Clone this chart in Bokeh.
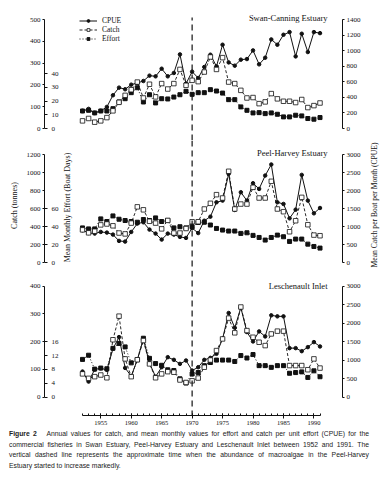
import math
from bokeh.plotting import figure
from bokeh.models import Range1d, LinearAxis, FixedTicker, Span, Label, Legend, LegendItem, Div
from bokeh.layouts import column, row
from bokeh.embed import file_html
from bokeh.resources import INLINE

# ---------------- data ----------------
years = [1952, 1953, 1954, 1955, 1956, 1957, 1958, 1959, 1960, 1961,
         1962, 1963, 1964, 1965, 1966, 1967, 1968, 1969, 1970, 1971,
         1972, 1973, 1974, 1975, 1976, 1977, 1978, 1979, 1980, 1981,
         1982, 1983, 1984, 1985, 1986, 1987, 1988, 1989, 1990, 1991]
change_year = 1970
x_major_ticks = [1955, 1960, 1965, 1970, 1975, 1980, 1985, 1990]

# Swan-Canning Estuary
swan_cpue = [226, 252, 200, 226, 277, 427, 525, 504, 563, 585,
             610, 679, 670, 768, 670, 713, 952, 576, 730, 649,
             790, 948, 798, 1076, 849, 807, 884, 892, 1003, 824,
             909, 1144, 1076, 1204, 1238, 926, 1217, 982, 1238, 1225]
swan_catch = [35, 46, 29, 35, 50, 81, 120, 152, 178, 213,
              140, 203, 145, 206, 181, 206, 271, 198, 221, 215,
              259, 328, 271, 325, 213, 206, 175, 140, 142, 114,
              122, 160, 136, 125, 125, 119, 133, 96, 105, 117]
swan_effort = [12.8, 13.3, 11.4, 12.8, 12.8, 14.5, 19.4, 21.8, 26.2, 29.8,
               19.4, 24.7, 18.7, 21.8, 21.6, 23.0, 24.7, 27.2, 25.0, 26.2,
               26.2, 28.4, 27.4, 25.9, 21.1, 21.1, 15.8, 13.3, 11.4, 11.6,
               10.9, 11.4, 10.4, 8.5, 8.5, 9.7, 9.2, 7.3, 6.8, 8.0]

# Peel-Harvey Estuary
peel_cpue = [895, 821, 803, 849, 831, 775, 600, 581, 849, 1080,
             1117, 914, 803, 637, 803, 775, 711, 683, 957, 818,
             1161, 1273, 1672, 1719, 2462, 1459, 1951, 1719, 2202, 2044,
             2415, 2722, 1672, 1626, 1226, 1468, 2434, 1719, 1366, 1514]
peel_catch = [365, 332, 350, 420, 430, 410, 330, 320, 440, 620,
              587, 460, 440, 376, 470, 330, 330, 380, 455, 455,
              596, 659, 755, 718, 1014, 596, 651, 651, 836, 718,
              718, 903, 596, 566, 344, 466, 725, 422, 307, 300]
peel_effort = [38.7, 37.6, 37.6, 48.7, 45.8, 52.0, 48.3, 46.9, 45.8, 45.0,
               48.0, 46.9, 49.8, 45.8, 46.9, 38.7, 40.0, 38.7, 40.0, 44.8,
               45.0, 41.9, 38.1, 36.3, 35.2, 35.2, 32.6, 33.3, 30.4, 28.1,
               25.2, 28.1, 30.7, 28.9, 23.7, 26.3, 26.3, 20.7, 18.1, 16.3]

# Leschenault Inlet
lesch_cpue = [689, 417, 743, 779, 734, 1305, 1622, 788, 562, 1006,
              1577, 915, 550, 806, 1078, 1006, 897, 988, 716, 806,
              1006, 1060, 1169, 1576, 2274, 1875, 2419, 1758, 1504, 1776,
              1640, 2211, 2183, 2183, 1323, 1323, 1241, 1350, 1486, 1368]
lesch_catch = [84, 68, 74, 80, 70, 207, 292, 138, 74, 135,
               204, 120, 70, 84, 92, 90, 62, 53, 59, 69,
               108, 134, 168, 210, 285, 232, 325, 240, 216, 198,
               186, 228, 238, 238, 114, 114, 114, 99, 138, 105]
lesch_effort = [10.9, 12.1, 8.1, 8.4, 8.2, 14.1, 15.5, 14.5, 9.9, 10.8,
                17.0, 11.2, 9.7, 9.2, 7.9, 7.7, 5.3, 4.1, 6.7, 7.1,
                9.1, 10.0, 10.7, 10.7, 10.7, 10.3, 12.0, 11.3, 12.3, 9.1,
                9.1, 8.6, 9.1, 9.1, 6.9, 7.1, 7.3, 5.7, 7.6, 5.9]

titles = ["Swan-Canning Estuary", "Peel-Harvey Estuary", "Leschenault Inlet"]
catch_ticks = [[0, 100, 200, 300, 400, 500],
               [0, 200, 400, 600, 800, 1000, 1200],
               [0, 100, 200, 300, 400]]
effort_ticks = [[0, 10, 20, 30, 40], [0, 20, 40, 60], [0, 4, 8, 12, 16]]
cpue_ticks = [[0, 200, 400, 600, 800, 1000, 1200, 1400],
              [0, 500, 1000, 1500, 2000, 2500, 3000],
              [0, 500, 1000, 1500, 2000, 2500, 3000]]

# ---------------- layout geometry (page pixels) ----------------
SERIF = "Liberation Serif"
INK = "#111111"
FIG_W = 384
SIDE_W = 18
FRAME_L, FRAME_R = 44, 342
X0_PX, PX_PER_YEAR = 82.0, 6.09


def px_to_year(px):
    return 1952 + (px - X0_PX) / PX_PER_YEAR


def lin(v0, p0, v1, p1):
    k = (v1 - v0) / (p1 - p0)
    return lambda p: v0 + (p - p0) * k


panels = [
    dict(top=12, bottom=140, btop=12, bbot=0, width=FIG_W,
         cm=lin(0, 128, 500, 19), em=lin(0, 128, 40, 73.3), pm=lin(0, 128, 1400, 19),
         cpue=swan_cpue, catch=swan_catch, effort=swan_effort, title_py=17),
    dict(top=140, bottom=270, btop=0, bbot=0, width=FIG_W - SIDE_W,
         cm=lin(0, 262.3, 1200, 154), em=lin(0, 262.3, 60, 208.2), pm=lin(0, 262, 3000, 154),
         cpue=peel_cpue, catch=peel_catch, effort=peel_effort, title_py=152),
    dict(top=270, bottom=415, btop=0, bbot=14, width=FIG_W,
         cm=lin(0, 396.7, 400, 285.7), em=lin(0, 396.7, 16, 341.2), pm=lin(0, 396.5, 3000, 285.7),
         cpue=lesch_cpue, catch=lesch_catch, effort=lesch_effort, title_py=285),
]


def style_axis(ax, size="7px"):
    ax.axis_line_color = INK
    ax.major_tick_line_color = INK
    ax.minor_tick_line_color = INK
    ax.major_label_text_color = INK
    ax.major_label_text_font = SERIF
    ax.major_label_text_font_size = size
    ax.axis_label_text_font = SERIF
    ax.axis_label_text_font_style = "normal"
    ax.axis_label_text_color = INK


figs = []
for i, sp in enumerate(panels):
    last = (i == 2)
    h = sp["btop"] + (sp["bottom"] - sp["top"]) + sp["bbot"]
    cm, em, pm = sp["cm"], sp["em"], sp["pm"]
    p = figure(width=sp["width"], height=h,
               x_range=Range1d(px_to_year(FRAME_L), px_to_year(FRAME_R)),
               y_range=Range1d(cm(sp["bottom"]), cm(sp["top"])),
               output_backend="svg", toolbar_location=None,
               x_axis_location="below" if last else None,
               min_border_left=FRAME_L, min_border_right=sp["width"] - FRAME_R,
               min_border_top=sp["btop"], min_border_bottom=sp["bbot"],
               outline_line_color=None, background_fill_color="white",
               border_fill_color="white")
    p.grid.visible = False
    p.extra_y_ranges = {"effort": Range1d(em(sp["bottom"]), em(sp["top"])),
                        "cpue": Range1d(pm(sp["bottom"]), pm(sp["top"]))}

    # catch axis (left)
    ya = p.yaxis[0]
    ya.ticker = FixedTicker(ticks=catch_ticks[i], minor_ticks=[])
    ya.bounds = (0, catch_ticks[i][-1])
    ya.major_tick_out = 2
    ya.major_tick_in = 0
    ya.major_label_standoff = 2
    style_axis(ya)
    if i == 1:
        ya.axis_label = "Catch (tonnes)"
        ya.axis_label_text_font_size = "8px"
        ya.axis_label_standoff = 5

    # effort axis: drawn on the same line, ticks/labels pointing right
    ea = LinearAxis(y_range_name="effort", fixed_location=px_to_year(FRAME_L),
                    ticker=FixedTicker(ticks=effort_ticks[i], minor_ticks=[]),
                    bounds=(0, effort_ticks[i][-1]))
    style_axis(ea)
    ea.axis_line_color = None
    ea.major_tick_out = 3
    ea.major_tick_in = 0
    ea.major_label_standoff = 4
    p.add_layout(ea, "right")

    # CPUE axis (right)
    ra = LinearAxis(y_range_name="cpue",
                    ticker=FixedTicker(ticks=cpue_ticks[i], minor_ticks=[]),
                    bounds=(0, cpue_ticks[i][-1]))
    style_axis(ra)
    ra.major_tick_out = 2
    ra.major_tick_in = 0
    ra.major_label_standoff = 2
    p.add_layout(ra, "right")

    if last:
        xa = p.xaxis[0]
        xa.ticker = FixedTicker(ticks=x_major_ticks, minor_ticks=years)
        xa.bounds = (years[0], years[-1])
        xa.major_tick_in = 2
        xa.major_tick_out = 3
        xa.minor_tick_in = 2
        xa.minor_tick_out = 0
        xa.major_label_standoff = 2
        style_axis(xa, "6.5px")

    # dashed reference line
    if i == 0:
        p.segment(x0=[change_year], y0=[cm(sp["bottom"] + 10)], x1=[change_year],
                  y1=[cm(17)], line_color=INK, line_width=1.2, line_dash="6 4")
    else:
        p.add_layout(Span(location=change_year, dimension="height", line_color=INK,
                          line_width=1.2, line_dash="6 4"))

    # series
    l_e = p.line(years, sp["effort"], y_range_name="effort", line_color=INK,
                 line_width=1, line_dash="1 2")
    l_k = p.line(years, sp["catch"], line_color=INK, line_width=0.9, line_dash="3 2")
    l_c = p.line(years, sp["cpue"], y_range_name="cpue", line_color=INK, line_width=1)
    s_e = p.scatter(years, sp["effort"], y_range_name="effort", marker="square",
                    size=4, fill_color=INK, line_color=INK)
    s_c = p.scatter(years, sp["cpue"], y_range_name="cpue", marker="circle",
                    size=3.5, fill_color=INK, line_color=INK)
    s_k = p.scatter(years, sp["catch"], marker="square", size=4.5,
                    fill_color="white", line_color=INK, line_width=0.8)

    # panel title
    p.add_layout(Label(x=px_to_year(327), y=cm(sp["title_py"]), text=titles[i],
                       text_align="right", text_baseline="middle", text_font=SERIF,
                       text_font_size="8.5px", text_color=INK))

    if i == 0:
        legend = Legend(items=[LegendItem(label="CPUE", renderers=[l_c, s_c]),
                               LegendItem(label="Catch", renderers=[l_k, s_k]),
                               LegendItem(label="Effort", renderers=[l_e, s_e])],
                        location=(35, 97))
        legend.border_line_color = None
        legend.background_fill_alpha = 0
        legend.padding = 0
        legend.margin = 0
        legend.spacing = 0
        legend.glyph_width = 18
        legend.glyph_height = 7
        legend.label_height = 7
        legend.label_standoff = 5
        legend.label_text_font = SERIF
        legend.label_text_font_size = "7.5px"
        legend.label_text_color = INK
        p.add_layout(legend)

    if i == 1:
        p.add_layout(Label(x=px_to_year(67), y=cm(207),
                           text="Mean Monthly Effort (Boat Days)", angle=math.pi / 2,
                           text_align="center", text_baseline="middle", text_font=SERIF,
                           text_font_size="8px", text_color=INK))
    figs.append(p)

# right-hand axis title for the middle panel (reads bottom-to-top)
side_html = ('<div style="position:relative;width:%dpx;height:130px;overflow:visible;">'
             '<div style="position:absolute;left:50%%;top:50%%;'
             'transform:translate(-50%%,-50%%) rotate(-90deg);white-space:nowrap;'
             'font-family:\'Liberation Serif\';font-size:7.6px;color:#111111;">'
             'Mean Catch per Boat per Month (CPUE)</div></div>' % SIDE_W)
side_div = Div(text=side_html, width=SIDE_W, height=130, margin=0,
               styles={"overflow": "visible"})

caption_lines = [
    '<b>Figure 2</b>&nbsp;&nbsp; Annual values for catch, and mean monthly values for effort and catch per unit effort (CPUE) for the',
    'commercial fisheries in Swan Estuary, Peel-Harvey Estuary and Leschenault Inlet between 1952 and 1991. The',
    'vertical dashed line represents the approximate time when the abundance of macroalgae in the Peel-Harvey',
    'Estuary started to increase markedly.',
]
html = '<div style="padding-left:9px;width:369px;">'
for j, line in enumerate(caption_lines):
    align_last = "justify" if j < 3 else "left"
    html += ('<div style="white-space:nowrap;text-align:justify;text-align-last:%s;'
             'line-height:10.5px;height:10.5px;">%s</div>' % (align_last, line))
html += '</div>'
caption = Div(text=html, width=FIG_W, height=42, margin=0,
              styles={"font-family": "Liberation Sans", "font-size": "6.8px",
                      "color": "#222222"})

layout = column(figs[0], row(figs[1], side_div, spacing=0), figs[2], caption, spacing=0)
open("out.html", "w").write(file_html(layout, INLINE))
